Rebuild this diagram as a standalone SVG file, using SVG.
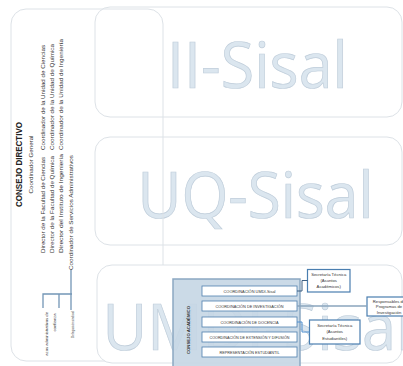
<svg xmlns="http://www.w3.org/2000/svg" width="403" height="366" viewBox="0 0 403 366">
<style>
.panel{fill:none;stroke:#dde2e7;stroke-width:1}
.big{font-family:"Open Sans","Liberation Sans",sans-serif;font-weight:400;font-size:64px;fill:#dbe6ef;stroke:#bfcddA;stroke-width:0.7}
.t{font-family:"Liberation Sans",Arial,sans-serif;font-size:6.2px;fill:#333}
.tb{font-family:"Liberation Sans",Arial,sans-serif;font-size:8.8px;font-weight:bold;fill:#222}
.ts{font-family:"Liberation Sans",Arial,sans-serif;font-size:4.2px;fill:#333}
.tx{font-family:"Liberation Sans",Arial,sans-serif;font-size:4.2px;fill:#333;text-anchor:middle}
.ib{fill:#fff;stroke:#4f7fae;stroke-width:0.8}
.rb{fill:#fff;stroke:#4a7eb0;stroke-width:1.2}
.br{fill:none;stroke:#7396b6;stroke-width:1.3}
</style>
<rect width="403" height="366" fill="#fff"/>
<g id="panel-ii">
<rect class="panel" x="95" y="7" width="307" height="110" rx="15"/>
<text class="big" x="167" y="88" textLength="181" lengthAdjust="spacingAndGlyphs">II-Sisal</text>
</g>
<g id="panel-uq">
<rect class="panel" x="95" y="137" width="307" height="108" rx="15"/>
<text class="big" x="137.5" y="218" textLength="236" lengthAdjust="spacingAndGlyphs">UQ-Sisal</text>
</g>
<g id="consejo-directivo">
<rect class="panel" x="11" y="9" width="152" height="352" rx="15"/>
<text class="tb" transform="translate(22 164.5) rotate(-90)" text-anchor="middle" textLength="85" lengthAdjust="spacingAndGlyphs">CONSEJO DIRECTIVO</text>
<text class="t" transform="translate(33 164.5) rotate(-90)" text-anchor="middle" textLength="58" lengthAdjust="spacingAndGlyphs">Coordinador General</text>
<text class="t" transform="translate(45 253) rotate(-90)" textLength="96" lengthAdjust="spacingAndGlyphs">Director de la Facultad de Ciencias</text>
<text class="t" transform="translate(54 253) rotate(-90)" textLength="97" lengthAdjust="spacingAndGlyphs">Director de la Facultad de Química</text>
<text class="t" transform="translate(63 253) rotate(-90)" textLength="99" lengthAdjust="spacingAndGlyphs">Director del Instituto de Ingeniería</text>
<text class="t" transform="translate(45 150) rotate(-90)" textLength="105" lengthAdjust="spacingAndGlyphs">Coordinador de la Unidad de Ciencias</text>
<text class="t" transform="translate(54 150) rotate(-90)" textLength="106" lengthAdjust="spacingAndGlyphs">Coordinador de la Unidad de Química</text>
<text class="t" transform="translate(63 150) rotate(-90)" textLength="111" lengthAdjust="spacingAndGlyphs">Coordinador de la Unidad de Ingeniería</text>
<text class="t" transform="translate(72.5 270) rotate(-90)" textLength="115" lengthAdjust="spacingAndGlyphs">Coordinador de Servicios Administrativos</text>
<text class="ts" transform="translate(48 312) rotate(-90)" text-anchor="end">azos administrativos de</text>
<text class="ts" transform="translate(56 322.5) rotate(-90)" text-anchor="middle">confianza</text>
<text class="ts" transform="translate(74 324.5) rotate(-90)" text-anchor="middle" textLength="27" lengthAdjust="spacingAndGlyphs">Delegación sindical</text>
</g>
<g id="panel-umdi">
<rect x="97" y="265" width="305" height="98" rx="15" fill="#fff" stroke="#dde2e7" stroke-width="1"/>
<text class="big" x="102.5" y="350" textLength="309" lengthAdjust="spacingAndGlyphs">UMDI-Sisal</text>
</g>
<g id="consejo-academico">
<rect x="173" y="279" width="127" height="95" fill="#c5d6e4" fill-opacity="0.9" stroke="#8ca8c2" stroke-width="1.5"/>
<text transform="translate(190 330) rotate(-90)" text-anchor="middle" font-family="Liberation Sans,Arial,sans-serif" font-size="4.2" font-weight="bold" fill="#333" textLength="48" lengthAdjust="spacingAndGlyphs">CONSEJO ACADÉMICO</text>
</g>
<g id="coord-umdi"><rect class="ib" x="202" y="286" width="95" height="10"/><text class="tx" x="249.5" y="292.6" textLength="52" lengthAdjust="spacingAndGlyphs">COORDINACIÓN UMDI-Sisal</text></g>
<g id="coord-inv"><rect class="ib" x="202" y="301" width="95" height="10"/><text class="tx" x="249.5" y="307.6" textLength="68" lengthAdjust="spacingAndGlyphs">COORDINACIÓN DE INVESTIGACIÓN</text></g>
<g id="coord-doc"><rect class="ib" x="202" y="317" width="95" height="10"/><text class="tx" x="249.5" y="323.6" textLength="58" lengthAdjust="spacingAndGlyphs">COORDINACIÓN DE DOCENCIA</text></g>
<g id="coord-ext"><rect class="ib" x="202" y="332" width="95" height="10"/><text class="tx" x="249.5" y="338.6" textLength="80" lengthAdjust="spacingAndGlyphs">COORDINACIÓN DE EXTENSIÓN Y DIFUSIÓN</text></g>
<g id="rep-est"><rect class="ib" x="202" y="347" width="95" height="10"/><text class="tx" x="249.5" y="353.6" textLength="60" lengthAdjust="spacingAndGlyphs">REPRESENTACIÓN ESTUDIANTIL</text></g>
<g id="sec-acad"><rect class="rb" x="307.5" y="269.5" width="42.5" height="22.5"/>
<text class="tx" x="328.7" y="276">Secretaría Técnica</text><text class="tx" x="328.7" y="282">(Asuntos</text><text class="tx" x="328.7" y="288">Académicos)</text></g>
<g id="resp-prog"><rect class="rb" x="367" y="297" width="44" height="19"/>
<text class="tx" x="389" y="302.5">Responsables de</text><text class="tx" x="389" y="308">Programas de</text><text class="tx" x="389" y="313.5">Investigación</text></g>
<g id="sec-est"><rect class="rb" x="309.5" y="320" width="50.5" height="24"/>
<text class="tx" x="334.7" y="327">Secretaría Técnica</text><text class="tx" x="334.7" y="333">(Asuntos</text><text class="tx" x="334.7" y="339.5">Estudiantiles)</text></g>
<g id="connectors">
<path class="br" d="M43 308V294H72M59 294V308M71 270V310"/>
<path d="M297 291H302V280.5H307.5" fill="none" stroke="#3d5f82" stroke-width="1"/>
<path d="M297 306H367" fill="none" stroke="#8aa4bd" stroke-width="1.5"/>
<path d="M297 322H302V332H309.5" fill="none" stroke="#4f8fcf" stroke-width="1"/>
</g>
</svg>
